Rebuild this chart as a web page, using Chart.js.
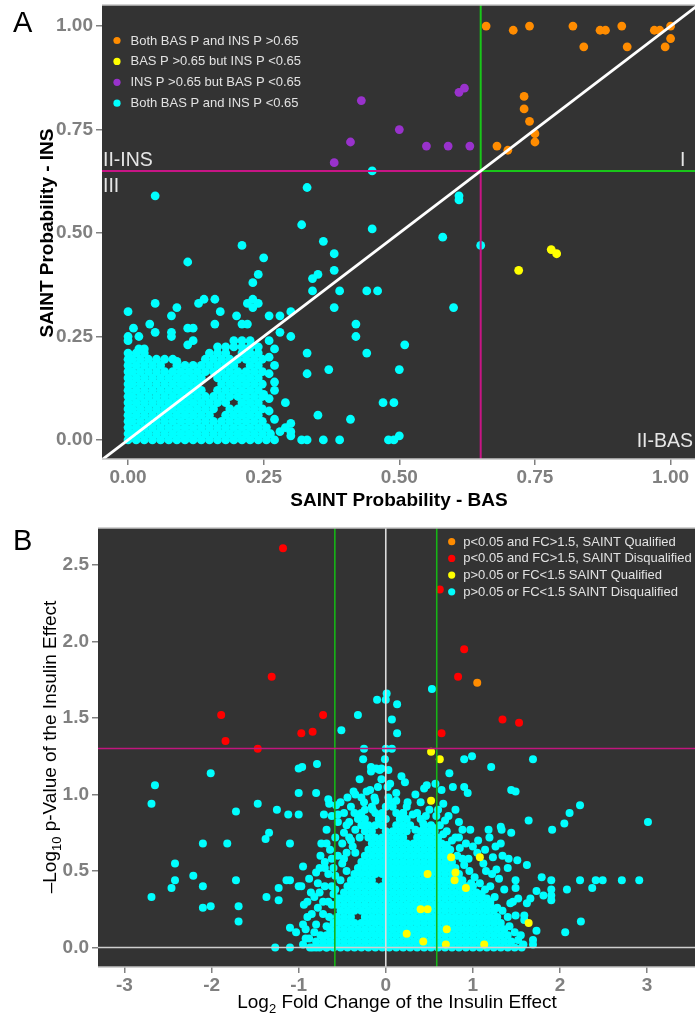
<!DOCTYPE html>
<html>
<head>
<meta charset="utf-8">
<script src="https://cdn.jsdelivr.net/npm/chart.js@4.4.1/dist/chart.umd.min.js"></script>
<style>
body{margin:0;background:#fff;width:695px;height:1014px;position:relative;overflow:hidden}
canvas{position:absolute;left:0}
#chartA{top:0}
#chartB{top:512px}
</style>
</head>
<body>
<canvas id="chartA" width="695" height="512"></canvas>
<canvas id="chartB" width="695" height="502"></canvas>
<script>
const FONT = '"Liberation Sans", Arial, Helvetica, sans-serif'

// ---- panel A : SAINT probability BAS vs INS
const ticksA = [0, 0.25, 0.5, 0.75, 1]
const cutA = 0.65
const legendA = ['Both BAS P and INS P >0.65', 'BAS P >0.65 but INS P <0.65', 'INS P >0.65 but BAS P <0.65', 'Both BAS P and INS P <0.65']
const colorsA = ['#ff8c00', '#ffff00', '#9932cc', '#00ffff']
const quadA = ['II-INS', 'III', 'I', 'II-BAS']

const bothHigh = [[0.66,1.00],[0.71,0.99],[0.74,1.00],[0.82,1.00],[0.87,0.99],[0.88,0.99],[0.91,1.00],[0.97,0.99],[0.98,0.99],[1.00,1.00],[1.00,0.97],[0.84,0.95],[0.92,0.95],[0.99,0.95],[0.73,0.83],[0.73,0.80],[0.74,0.77],[0.75,0.74],[0.75,0.72],[0.68,0.71],[0.70,0.70]]
const basOnly = [[0.78,0.46],[0.79,0.45],[0.72,0.41]]
const insOnly = [[0.43,0.82],[0.61,0.84],[0.62,0.85],[0.50,0.75],[0.41,0.72],[0.55,0.71],[0.59,0.71],[0.63,0.71],[0.38,0.67]]
const bothLow = [[0.05,0.59],[0.33,0.61],[0.32,0.52],[0.36,0.48],[0.38,0.45],[0.38,0.41],[0.21,0.47],[0.11,0.43],[0.25,0.44],[0.24,0.40],[0.23,0.38],[0.34,0.39],[0.35,0.40],[0.34,0.36],[0.39,0.36],[0.38,0.32],
[0.00,0.31],[0.05,0.33],[0.09,0.32],[0.08,0.30],[0.13,0.33],[0.14,0.34],[0.16,0.34],[0.17,0.31],[0.20,0.30],[0.22,0.33],[0.23,0.34],[0.24,0.33],[0.23,0.32],[0.26,0.30],[0.28,0.30],[0.30,0.31],
[0.04,0.28],[0.01,0.27],[0.08,0.26],[0.08,0.25],[0.05,0.26],[0.11,0.27],[0.12,0.27],[0.11,0.23],[0.12,0.24],[0.16,0.28],[0.21,0.28],[0.22,0.28],[0.00,0.25],[0.02,0.25],[0.00,0.24],[0.02,0.22],[0.03,0.22],[0.09,0.19],
[0.28,0.26],[0.30,0.25],[0.33,0.21],[0.33,0.16],[0.37,0.17],[0.29,0.09],[0.27,0.12],[0.25,0.11],[0.26,0.10],[0.35,0.06],[0.41,0.05],[0.28,0.02],[0.29,0.03],[0.30,0.04],[0.30,0.02],[0.30,0.01],[0.32,0.00],[0.33,0.00],[0.36,0.00],[0.39,0.00],
[0.27,0.22],[0.26,0.24],[0.26,0.20],[0.27,0.18],[0.26,0.16],[0.27,0.14],[0.26,0.07],[0.27,0.05],
[0.61,0.59],[0.61,0.58],[0.45,0.51],[0.58,0.49],[0.65,0.47],[0.44,0.36],[0.46,0.36],[0.60,0.32],[0.42,0.28],[0.42,0.25],[0.51,0.23],[0.44,0.21],[0.50,0.17],[0.47,0.09],[0.49,0.09],[0.48,0.00],[0.49,0.00],[0.50,0.01],[0.45,0.65]]
// dense corner: [INS x100, 'BAS x100 values']
const bothLowRows = [
[0, '0 1.5 3 4.5 6 7.5 9 10.5 12 13.5 15 16.5 18 19.5 21 22.5 24 25.5 27'],
[1.5, '0 0.75 2.25 3.75 5.25 6.75 8.25 9.75 11.25 12.75 14.25 15.75 17.25 18.75 20.25 21.75 23.25 24.75 26.25'],
[3, '0 1.5 3 4.5 6 7.5 9 10.5 12 13.5 15 16.5 18 19.5 21 22.5 24 25.5'],
[4.5, '0 0.75 2.25 3.75 5.25 6.75 8.25 9.75 11.25 12.75 14.25 15.75 17.25 18.75 20.25 21.75 23.25 24.75'],
[6, '0 1.5 3 4.5 6 7.5 9 10.5 12 13.5 15 18 19.5 21 22.5 24'],
[7.5, '0 0.75 2.25 3.75 5.25 6.75 8.25 9.75 11.25 12.75 14.25 15.75 18.75 20.25 21.75 23.25 24.75'],
[9, '0 1.5 3 4.5 6 7.5 9 10.5 12 13.5 15 16.5 18 21 22.5 24'],
[10.5, '0 0.75 2.25 3.75 5.25 6.75 8.25 9.75 11.25 12.75 14.25 15.75 17.25 18.75 20.25 21.75 23.25 24.75'],
[12, '0 1.5 3 4.5 6 7.5 9 10.5 12 13.5 16.5 18 19.5 21 22.5 24'],
[13.5, '0 0.75 2.25 3.75 5.25 6.75 8.25 9.75 11.25 12.75 17.25 18.75 20.25 21.75 23.25 24.75'],
[15, '0 1.5 3 4.5 6 7.5 9 10.5 12 13.5 16.5 18 19.5 21 22.5 24'],
[16.5, '0 0.75 2.25 3.75 5.25 6.75 8.25 9.75 11.25 12.75 14.25 15.75 17.25 18.75 20.25 21.75 23.25 24.75'],
[18, '0 1.5 3 4.5 6 9 10.5 12 13.5 15 16.5 18 19.5 22.5 24'],
[19.5, '0 0.75 2.25 3.75 5.25 6.75 8.25 14.25 15.75 17.25 18.75 20.25 21.75 23.25 24.75'],
[21, '0 1.5 3 15 16.5 18 21 22.5 24'],
[22.5, '16.5 18 19.5 21 22.5 24'],
[24, '19.5 21 22.5']
]

// ---- panel B : volcano plot
const ticksBx = [-3, -2, -1, 0, 1, 2, 3]
const ticksBy = [0, 0.5, 1, 1.5, 2, 2.5]
const fcCut = 0.585
const pCut = 1.301
const legendB = ['p<0.05 and FC>1.5, SAINT Qualified', 'p<0.05 and FC>1.5, SAINT Disqualified', 'p>0.05 or FC<1.5 SAINT Qualified', 'p>0.05 or FC<1.5 SAINT Disqualified']
const colorsB = ['#ff8c00', '#ff0000', '#ffff00', '#00ffff']

const sigQual = [[1.05,1.73]]
const sigDisq = [[-1.18,2.61],[-1.31,1.77],[-1.89,1.52],[-1.84,1.35],[-1.47,1.30],[-0.97,1.40],[-0.84,1.41],[-0.72,1.52],[0.62,2.34],[0.90,1.95],[0.83,1.77],[1.34,1.49],[1.53,1.47],[0.64,1.40]]
const nsQual = [[0.52,1.28],[0.62,1.23],[0.52,0.96],[1.08,0.59],[0.80,0.49],[0.79,0.44],[0.75,0.59],[0.92,0.39],[0.48,0.48],[0.40,0.25],[0.48,0.25],[0.24,0.09],[0.69,0.02],[1.13,0.02],[1.64,0.16],[0.43,0.04],[0.70,0.12]]
const nsDisq = [[-2.65,1.06],[-2.69,0.94],[-2.01,1.14],[-1.72,0.89],[-1.47,0.94],[-1.25,0.90],[-1.12,0.87],[-1.00,0.87],[-1.00,1.01],[-0.80,1.01],[-1.00,1.17],[-0.96,1.18],[-0.79,1.20],[-1.34,0.75],[-1.38,0.71],[-2.10,0.68],[-1.82,0.68],[-1.10,0.68],[-2.42,0.55],[-2.21,0.47],[-2.42,0.44],[-2.46,0.39],[-2.10,0.40],[-1.72,0.44],[-2.69,0.33],[-2.10,0.26],[-2.01,0.27],[-1.69,0.27],[-1.69,0.17],[-1.37,0.33],[-1.23,0.39],[-1.23,0.31],[-1.14,0.44],[-1.10,0.44],[-1.00,0.40],[-0.97,0.40],[-0.95,0.53],[-1.10,0.13],[-1.03,0.10],[-1.27,0],[-1.10,0],[-0.94,0.28],[-0.87,0],[-0.80,0],[-0.68,0],
[-0.51,1.42],[-0.66,0.97],[-0.65,0.94],[-0.57,0.93],[-0.71,0.87],[-0.55,0.87],[-0.68,0.77],[-0.74,0.68],[-0.68,0.68],[-0.75,0.60],[-0.70,0.52],[-0.80,0.49],[-0.78,0.42],[-0.90,0.20],[-0.85,0.22],[-0.80,0.15],[-0.92,0.12],[-0.78,0.26],[-0.72,0.30],[-0.62,0.40],[-0.58,0.47],[-0.50,0.55],[-0.45,0.62],[-0.40,0.70],[-0.35,0.77],[-0.45,0.80],[-0.30,0.85],[-0.40,0.92],[-0.35,1.00],[-0.60,0.35],[-0.65,0.20],[-0.88,0.06],[-0.75,0.08],
[-0.95,0.15],[-0.90,0.30],[-0.86,0.36],[-0.82,0.33],[-0.76,0.36],[-0.70,0.40],[-0.66,0.30],[-0.72,0.22],[-0.68,0.14],[-0.82,0.10],[-0.95,0.02],[-0.92,0.06],[-0.60,0.52],[-0.55,0.60],[-0.62,0.58],[-0.50,0.68],[-0.58,0.72],[-0.48,0.75],[-0.42,0.82],[-0.55,0.82],[-0.62,0.86],[-0.48,0.88],[-0.52,0.95],[-0.44,0.98],[-0.28,0.98],[-0.22,1.02],[-0.38,0.66],[-0.45,0.50],[-0.52,0.44],[-0.58,0.38],[-0.62,0.28],[-0.55,0.32],[-0.48,0.58],[-0.35,0.62],[-0.30,0.72],[-0.26,0.80],[-0.36,0.88],[-0.24,0.90],[-0.42,0.72],[-0.64,0.64],[-0.70,0.56],[-0.76,0.52],[-0.88,0.45],[-0.66,0.48],
[-0.37,1.02],[-0.18,1.03],[-0.13,0.98],[0.03,0.98],[0.12,1.01],[0.05,1.07],[-0.09,1.05],[0.02,1.05],[0.53,1.69],[0.01,1.66],[-0.10,1.62],[0.00,1.62],[0.13,1.59],[-0.32,1.52],[0.07,1.49],[0.13,1.40],[-0.25,1.30],[0.00,1.30],[0.07,1.30],[-0.26,1.23],[-0.01,1.23],[-0.17,1.18],[-0.17,1.15],[-0.07,1.16],[0.03,1.16],[-0.11,1.17],[-0.05,1.17],[0.47,1.06],[0.57,1.07],[0.73,1.14],[0.64,1.03],[0.90,1.23],[0.99,1.25],[1.21,1.18],[1.69,1.23],[0.77,1.05],[0.90,1.05],[0.94,1.01],[1.44,1.03],[1.49,1.02],
[0.31,0.87],[0.43,0.81],[0.34,0.77],[0.43,0.77],[0.68,0.83],[0.51,0.71],[0.62,0.68],[0.70,0.67],[0.56,0.55],[0.84,0.82],[0.88,0.77],[0.97,0.77],[1.18,0.77],[1.19,0.72],[1.32,0.79],[1.33,0.77],[1.44,0.75],[1.32,0.68],[1.64,0.83],[1.91,0.77],[2.05,0.81],[2.11,0.88],[2.23,0.93],[3.01,0.82],[1.23,0.59],[1.41,0.58],[1.51,0.57],[1.62,0.54],[1.27,0.51],[1.79,0.46],[1.90,0.44],[2.23,0.44],[2.41,0.44],[2.49,0.44],[2.71,0.44],[2.91,0.44],[2.37,0.39],[2.08,0.38],[1.90,0.38],[1.90,0.34],[1.90,0.31],[1.81,0.34],[1.73,0.37],[1.66,0.32],[1.62,0.29],[1.49,0.44],[1.49,0.39],[1.52,0.32],[1.43,0.29],[1.49,0.21],[1.59,0.21],[1.59,0.18],[2.24,0.17],[2.06,0.10],[1.73,0.11],[1.69,0.05],[1.69,0.02],[1.55,0.08],[1.58,0.02],[1.30,0.45],[1.20,0.40],[1.15,0.50],[1.05,0.62],[0.95,0.58],[0.85,0.65],[0.80,0.72],[1.10,0.35],[1.25,0.33],[0.60,0.90],[0.40,0.95],[0.25,0.95],[-0.25,0.95],[-0.15,0.90],[0.20,0.88],
[0.62,0.80],[0.70,0.76],[0.76,0.70],[0.66,0.74],[0.58,0.86],[0.50,0.90],[0.46,0.86],[0.56,0.78],[0.74,0.64],[0.82,0.60],[0.90,0.54],[0.96,0.50],[1.02,0.46],[1.08,0.42],[1.14,0.38],[1.20,0.30],[1.28,0.26],[1.34,0.24],[1.40,0.20],[1.42,0.14],[1.48,0.10],[1.52,0.05],[1.56,0.00],[1.46,0.30],[1.36,0.38],[1.00,0.66],[0.92,0.68],[0.88,0.58],[1.12,0.55],[1.22,0.48],[0.98,0.42],[1.06,0.70],[0.84,0.72],[0.72,0.86],[0.80,0.90],[1.40,0.52],[1.34,0.60],[1.26,0.66],[1.14,0.64],[0.66,0.94],[0.34,1.00],[0.44,1.04],[0.22,1.08],[-0.05,1.10],[-0.30,1.10],[0.18,1.12]]
// dense core: [-log10 p x100, 'log2 FC x100 values']
const nsDisqRows = [
[0, '-84 -76 -68 -60 -52 -44 -36 -28 -20 -12 -4 4 12 20 28 36 44 52 60 68 76 84 92 100 108 116 124 132 140 148'],
[4, '-80 -72 -64 -56 -48 -40 -32 -24 -16 -8 0 8 16 24 32 40 48 56 64 72 80 88 96 104 112 120 128 136 144'],
[8, '-68 -60 -52 -44 -36 -28 -20 -12 -4 4 12 20 28 36 44 52 60 68 76 84 92 100 108 116 124 132 140'],
[12, '-64 -56 -48 -40 -32 -24 -16 -8 0 8 16 24 32 40 48 56 64 72 80 88 96 104 112 120 128 136'],
[16, '-60 -52 -44 -36 -28 -20 -12 -4 4 12 20 28 36 44 52 60 68 76 84 92 100 108 116 124 132'],
[20, '-56 -48 -40 -24 -16 -8 0 8 16 24 32 40 48 56 64 72 80 88 96 104 112 120 128'],
[24, '-52 -44 -36 -28 -20 -12 -4 4 12 20 28 36 44 52 60 68 76 84 92 100 108 116 124'],
[28, '-56 -48 -40 -32 -24 -16 -8 0 8 16 24 32 40 48 56 64 72 80 88 96 104 112 120'],
[32, '-52 -44 -36 -28 -20 -12 -4 4 12 20 28 36 44 52 60 68 76 84 92 100 108 116'],
[36, '-48 -40 -32 -24 -16 -8 0 8 16 24 32 40 48 56 64 72 80 88 96 104'],
[40, '-44 -36 -28 -20 -12 -4 4 12 20 28 36 44 52 60 68 76 84 92 100'],
[44, '-40 -32 -24 -16 0 8 16 24 32 40 48 56 64 72 80 88'],
[48, '-36 -28 -20 -12 -4 4 12 20 28 36 44 52 60 68 76 84'],
[52, '-32 -24 -16 -8 0 8 16 24 32 40 48 56 64 72 80'],
[56, '-28 -20 -12 -4 4 12 20 28 36 44 52 60 68 76'],
[60, '-24 -16 -8 0 8 16 24 32 40 48 56 64 72'],
[64, '-20 -12 -4 4 12 20 28 36 44 52 60 68'],
[68, '-16 -8 0 8 16 24 32 40 48 56 64'],
[72, '-20 -12 -4 4 12 20 36 44 52 60'],
[76, '-24 -16 0 8 16 24 40 48 56'],
[80, '-28 -20 -12 -4 12 20 28 44 52'],
[84, '-32 -24 -8 0 16 24 40'],
[88, '-28 -12 -4 12 20 36'],
[92, '-16 0 8 24'],
[96, '-12 4 12']
]

const pts = arr => arr.map(p => ({x: p[0], y: p[1]}))
const rowPts = rows => rows.flatMap(r => r[1].split(' ').map(v => ({x: +v / 100, y: r[0] / 100})))

function drawText(ctx, parts, x, y, angle, weight, align) {
  ctx.save()
  ctx.translate(x, y)
  ctx.rotate(angle)
  ctx.textBaseline = 'alphabetic'
  ctx.textAlign = 'left'
  let w = 0
  parts.forEach(p => { ctx.font = weight + ' ' + p.size + 'px ' + FONT; p.w = ctx.measureText(p.text).width; w += p.w })
  let cx = align === 'center' ? -w / 2 : align === 'right' ? -w : 0
  parts.forEach(p => {
    ctx.font = weight + ' ' + p.size + 'px ' + FONT
    ctx.fillText(p.text, cx, p.dy || 0)
    cx += p.w
  })
  ctx.restore()
}

function panelPlugin(cfg) {
  return {
    id: 'panel',
    beforeDraw(chart) {
      const {ctx, chartArea: a} = chart
      ctx.save()
      ctx.fillStyle = '#333333'
      ctx.fillRect(a.left, a.top, a.right - a.left, a.bottom - a.top)
      ctx.restore()
    },
    afterDatasetsDraw(chart) {
      const {ctx, chartArea: a, scales: {x, y}} = chart
      ctx.save()
      ctx.beginPath()
      ctx.rect(a.left, a.top, a.right - a.left, a.bottom - a.top)
      ctx.clip()
      cfg.lines(x, y).forEach(l => {
        ctx.strokeStyle = l.color
        ctx.lineWidth = l.width
        ctx.beginPath()
        ctx.moveTo(x.getPixelForValue(l.from[0]), y.getPixelForValue(l.from[1]))
        ctx.lineTo(x.getPixelForValue(l.to[0]), y.getPixelForValue(l.to[1]))
        ctx.stroke()
      })
      ctx.restore()

      // frame
      ctx.save()
      ctx.strokeStyle = '#c4c4c4'
      ctx.lineWidth = 1.5
      ctx.beginPath()
      ctx.moveTo(a.left, a.top); ctx.lineTo(a.right, a.top)
      ctx.moveTo(a.left, a.bottom); ctx.lineTo(a.right, a.bottom)
      ctx.stroke()
      ctx.restore()

      // legend inside the panel
      const lg = cfg.legend
      ctx.save()
      ctx.font = '13px ' + FONT
      ctx.textBaseline = 'middle'
      lg.labels.forEach((t, i) => {
        const yy = a.top + lg.top + i * lg.gap
        ctx.fillStyle = lg.colors[i]
        ctx.beginPath()
        ctx.arc(a.left + lg.dot, yy, 3.6, 0, Math.PI * 2)
        ctx.fill()
        ctx.fillStyle = '#e2e2e2'
        ctx.fillText(t, a.left + lg.text, yy + 0.5)
      })
      ctx.restore()

      if (cfg.labels) cfg.labels(ctx, a, x, y)
    },
    afterDraw(chart) {
      const {ctx} = chart
      ctx.save()
      ctx.fillStyle = '#000'
      cfg.titles(ctx)
      ctx.font = '29px ' + FONT
      ctx.textBaseline = 'alphabetic'
      ctx.fillText(cfg.letter[0], 13, cfg.letter[1])
      ctx.restore()
    }
  }
}

function axis(min, max, ticks, fmt, size) {
  return {
    type: 'linear', min: min, max: max,
    afterBuildTicks: s => { s.ticks = ticks.map(v => ({value: v})) },
    afterFit: s => {
      if (s.isHorizontal()) s.height = size; else s.width = size
      s.paddingTop = 0; s.paddingBottom = 0; s.paddingLeft = 0; s.paddingRight = 0
    },
    ticks: {font: {family: FONT, size: 19, weight: 'bold'}, color: '#808080', padding: 3, callback: fmt},
    grid: {drawOnChartArea: false, drawTicks: true, tickLength: 6, color: '#808080', lineWidth: 1.5},
    border: {display: false}
  }
}

const baseOpts = (pad) => ({
  responsive: false, animation: false, events: [],
  layout: {autoPadding: false, padding: {top: pad, left: 0, right: 0, bottom: 0}},
  plugins: {legend: {display: false}, tooltip: {enabled: false}},
  elements: {point: {borderWidth: 0}}
})

// ---- chart A
const optsA = baseOpts(5)
optsA.scales = {
  x: axis(-0.048, 1.045, ticksA, v => v.toFixed(2), 53),
  y: axis(-0.046, 1.051, ticksA, v => v.toFixed(2), 102)
}
optsA.scales.x.ticks.padding = 1

const dsA = (data, i) => ({type: 'scatter', label: legendA[i], data: data, backgroundColor: colorsA[i], pointRadius: 4.4, pointHoverRadius: 4.4})

new Chart(document.getElementById('chartA'), {
  type: 'scatter',
  data: {datasets: [
    dsA(pts(bothHigh), 0),
    dsA(pts(basOnly), 1),
    dsA(pts(insOnly), 2),
    dsA(pts(bothLow).concat(rowPts(bothLowRows)), 3)
  ]},
  options: optsA,
  plugins: [panelPlugin({
    letter: ['A', 32],
    legend: {labels: legendA, colors: colorsA, top: 35.5, gap: 20.9, dot: 15, text: 28.5},
    lines: (x, y) => [
      {from: [x.min, cutA], to: [cutA, cutA], color: '#c71585', width: 2},
      {from: [cutA, y.min], to: [cutA, cutA], color: '#c71585', width: 2},
      {from: [cutA, cutA], to: [x.max, cutA], color: '#19c619', width: 2},
      {from: [cutA, cutA], to: [cutA, y.max], color: '#19c619', width: 2},
      {from: [-0.2, -0.2], to: [1.2, 1.2], color: '#ffffff', width: 2.8}
    ],
    labels: (ctx, a, x, y) => {
      const yc = y.getPixelForValue(cutA)
      ctx.save()
      ctx.fillStyle = '#e6e6e6'
      ctx.font = '19.5px ' + FONT
      ctx.textBaseline = 'alphabetic'
      ctx.textAlign = 'left'
      ctx.fillText(quadA[0], a.left + 1, yc - 5)
      ctx.fillText(quadA[1], a.left + 1, yc + 21)
      ctx.fillText(quadA[2], a.right - 15, yc - 5)
      ctx.textAlign = 'right'
      ctx.fillText(quadA[3], a.right - 2, a.bottom - 12)
      ctx.restore()
    },
    titles: ctx => {
      drawText(ctx, [{text: 'SAINT Probability - BAS', size: 19}], 399, 506, 0, 'bold', 'center')
      drawText(ctx, [{text: 'SAINT Probability - INS', size: 19}], 53, 233, -Math.PI / 2, 'bold', 'center')
    }
  })]
})

// ---- chart B
const optsB = baseOpts(16)
optsB.scales = {
  x: axis(-3.304, 3.55, ticksBx, v => String(v), 47),
  y: axis(-0.127, 2.742, ticksBy, v => v.toFixed(1), 98)
}
optsB.scales.x.ticks.padding = 1

const dsB = (data, i) => ({type: 'scatter', label: legendB[i], data: data, backgroundColor: colorsB[i], pointRadius: 4, pointHoverRadius: 4})

new Chart(document.getElementById('chartB'), {
  type: 'scatter',
  data: {datasets: [
    dsB(pts(sigQual), 0),
    dsB(pts(sigDisq), 1),
    dsB(pts(nsQual), 2),
    dsB(pts(nsDisq).concat(rowPts(nsDisqRows)), 3)
  ]},
  options: optsB,
  plugins: [panelPlugin({
    letter: ['B', 38],
    legend: {labels: legendB, colors: colorsB, top: 13.7, gap: 16.7, dot: 353.7, text: 365.3},
    lines: (x, y) => [
      {from: [0, y.min], to: [0, y.max], color: '#dcdcdc', width: 1.6},
      {from: [x.min, 0], to: [x.max, 0], color: '#cfcfcf', width: 1.6},
      {from: [-fcCut, y.min], to: [-fcCut, y.max], color: '#16b416', width: 1.6},
      {from: [fcCut, y.min], to: [fcCut, y.max], color: '#16b416', width: 1.6},
      {from: [x.min, pCut], to: [x.max, pCut], color: '#c0167e', width: 1.6}
    ],
    titles: ctx => {
      drawText(ctx, [{text: 'Log', size: 19}, {text: '2', size: 13, dy: 5}, {text: ' Fold Change of the Insulin Effect', size: 19}], 397, 496, 0, 'normal', 'center')
      drawText(ctx, [{text: '\u2013Log', size: 19}, {text: '10', size: 13, dy: 5}, {text: ' p-Value of the Insulin Effect', size: 19}], 56, 235, -Math.PI / 2, 'normal', 'center')
    }
  })]
})
</script>
</body>
</html>
